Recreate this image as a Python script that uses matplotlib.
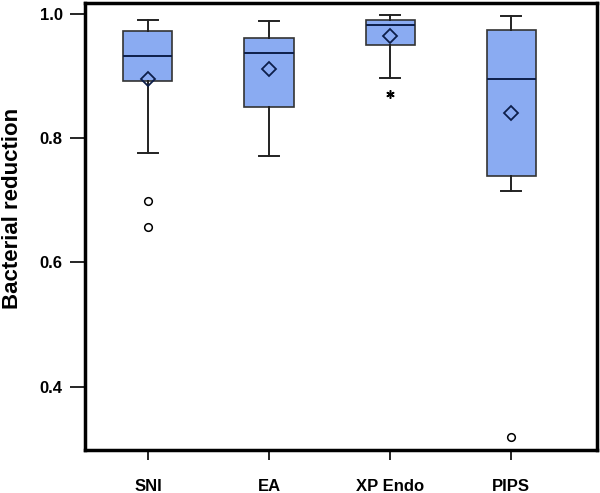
import matplotlib
matplotlib.use("Agg")
import matplotlib.pyplot as plt

plt.rcParams['font.family'] = ['Liberation Sans', 'DejaVu Sans']

groups = ["SNI", "EA", "XP Endo", "PIPS"]
whisker_low = [0.777, 0.772, 0.897, 0.715]
q1 = [0.892, 0.850, 0.950, 0.739]
median = [0.932, 0.937, 0.982, 0.895]
q3 = [0.973, 0.962, 0.991, 0.975]
whisker_high = [0.991, 0.989, 0.999, 0.997]
means = [0.895, 0.911, 0.965, 0.840]
outliers = [[0.699, 0.657], [], [], [0.319]]
extremes = [[], [], [0.872], []]

yticks = [0.4, 0.6, 0.8, 1.0]
ytick_labels = ["0.4", "0.6", "0.8", "1.0"]

fig = plt.figure(figsize=(6.0, 4.93), dpi=100)
ax = fig.add_axes([0.1417, 0.0872, 0.8533, 0.9068])

stats = []
for i, g in enumerate(groups):
    stats.append(dict(label=g, whislo=whisker_low[i], q1=q1[i], med=median[i],
                      q3=q3[i], whishi=whisker_high[i], mean=means[i], fliers=[]))

positions = list(range(1, len(groups) + 1))
ax.bxp(stats, positions=positions, widths=0.405, patch_artist=True,
       showmeans=False, showfliers=False,
       boxprops=dict(facecolor="#8aabf2", edgecolor="#333333", linewidth=1.2),
       medianprops=dict(color="#0d1f4a", linewidth=1.4),
       whiskerprops=dict(color="#222222", linewidth=1.4),
       capprops=dict(color="#222222", linewidth=1.4),
       capwidths=0.17)

ax.plot(positions, means, linestyle="none", marker="D", markersize=7.5,
        markerfacecolor="none", markeredgecolor="#0d1f4a", markeredgewidth=1.3, zorder=5)

for p, vals in zip(positions, outliers):
    if vals:
        ax.plot([p] * len(vals), vals, linestyle="none", marker="o", markersize=5.5,
                markerfacecolor="white", markeredgecolor="black", markeredgewidth=1.1)
for p, vals in zip(positions, extremes):
    if vals:
        ax.plot([p] * len(vals), vals, linestyle="none", marker=(6, 2, 0), markersize=6,
                color="black", markeredgewidth=1.1)

ax.set_xlim(0.48, 4.71)
ax.set_ylim(0.298, 1.018)
ax.set_yticks(yticks)
ax.set_yticklabels(ytick_labels)
ax.set_xticks(positions)
ax.set_xticklabels(groups)

for s in ax.spines.values():
    s.set_linewidth(2.5)
    s.set_color("black")

ax.tick_params(axis="y", length=11, width=1.2, pad=5, labelsize=12)
ax.tick_params(axis="x", length=7, width=1.2, pad=14, labelsize=12)
for lab in ax.get_xticklabels() + ax.get_yticklabels():
    lab.set_fontweight("bold")

fig.text(13 / 600, 1 - 208.5 / 493, "Bacterial reduction", rotation=90,
         ha="center", va="center", fontsize=16, fontweight="bold")

fig.savefig("out.png", dpi=100)
